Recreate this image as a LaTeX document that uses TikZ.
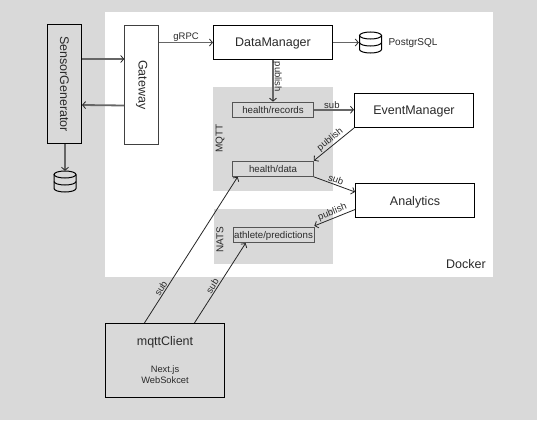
\documentclass[tikz,border=0pt]{standalone}
\usepackage{fontspec}
\setmainfont{Liberation Sans}
\usetikzlibrary{arrows.meta}
\definecolor{canvasgray}{HTML}{D9D9D9}
\definecolor{flowgray}{HTML}{666666}
\definecolor{textgray}{HTML}{2A2A2A}
\definecolor{topicline}{HTML}{555555}
\newcommand{\smalltext}{\fontsize{9.3}{11}\selectfont}
\tikzset{
    service/.style={draw=black, line width=1.1pt, inner sep=0pt, text=textgray, font=\fontsize{12.5}{15}\selectfont, align=center},
    hservice/.style={service, fill=white, minimum width=119pt, minimum height=34pt, text depth=0pt},
    vservice/.style={service, minimum width=34pt, minimum height=119pt},
    panel/.style={fill=canvasgray, inner sep=0pt},
    topic/.style={draw=topicline, line width=.7pt, inner sep=0pt, minimum width=81pt, minimum height=15.5pt, text depth=0pt, text=textgray, font=\fontsize{9.7}{10}\selectfont},
    caption/.style={inner sep=0pt, text=textgray, font=\fontsize{10}{11}\selectfont},
    edgelabel/.style={inner sep=1pt, text=textgray, font=\fontsize{9.5}{10}\selectfont},
    flow/.style={->, draw=flowgray, line width=1.8pt},
    link/.style={->, draw=black!85, line width=.8pt},
    dbslot/.style={inner sep=0pt, minimum width=23pt, minimum height=22pt},
    dbicon/.pic={
        \draw[black, line width=1pt] (0,7pt) ellipse (11pt and 3.5pt);
        \draw[black, line width=1pt] (-11pt,7pt) -- (-11pt,-7pt) arc (180:360:11pt and 3.5pt) -- (11pt,7pt);
        \draw[black, line width=1pt] (-11pt,0pt) arc (180:360:11pt and 3.5pt);
    }
}
\begin{document}
\begin{tikzpicture}[>={Straight Barb[length=3pt,width=7pt,line width=.8pt,color=black!85]}]
    \node (canvas) [fill=canvasgray, inner sep=0pt, outer sep=0pt, minimum width=537pt, minimum height=420pt, anchor=north west] at (0,0) {};
    \node (dockerarea) [fill=white, inner sep=0pt, minimum width=388pt, minimum height=265pt] at (299pt,-144.5pt) {};
    \node (sensorgen) [vservice] at (64.5pt,-84pt) {\rotatebox{-90}{SensorGenerator}};
    \node (gateway) [vservice, fill=white, draw=black!75, right of=sensorgen, node distance=77.25pt, yshift=-.75pt] {\rotatebox{-90}{Gateway}};
    \node (datamanager) [hservice, right of=gateway, node distance=131.25pt, yshift=42.25pt] {DataManager};
    \node (mqttpanel) [panel, minimum width=120pt, minimum height=104pt, below of=datamanager, node distance=96.5pt] {};
    \node (natspanel) [panel, minimum width=119pt, minimum height=55pt, below of=mqttpanel, node distance=97.5pt, xshift=.5pt] {};
    \node (healthrecords) [topic, below of=datamanager, node distance=67.25pt] {health/records};
    \node (healthdata) [topic, below of=healthrecords, node distance=59pt] {health/data};
    \node (athletepred) [topic, below of=healthdata, node distance=66.25pt, xshift=.5pt] {athlete/predictions};
    \node (eventmanager) [hservice, right of=healthrecords, node distance=141pt, yshift=-.75pt] {EventManager};
    \node (analytics) [hservice, below of=eventmanager, node distance=90pt, xshift=1pt] {Analytics};
    \node (mqttclient) [service, minimum width=119pt, minimum height=74pt, below of=gateway, node distance=275.75pt, xshift=23.25pt] {mqttClient\\[12pt]\smalltext Next.js\\[-4pt]\smalltext WebSokcet};
    \node (pgdb) [dbslot, right of=datamanager, node distance=97.5pt] {};
    \node (sensordb) [dbslot, below of=sensorgen, node distance=97.5pt, xshift=.5pt] {};
    \pic at (pgdb) {dbicon};
    \pic at (sensordb) {dbicon};
    \node (pglabel) [caption, text depth=0pt, right of=pgdb, node distance=42.5pt] {PostgrSQL};
    \node (dockerlabel) [caption, font=\fontsize{12.5}{13}\selectfont, right of=natspanel, node distance=192.5pt, yshift=-27.5pt] {Docker};
    \node (mqttlabel) [caption, left of=mqttpanel, node distance=53pt, yshift=.5pt] {\rotatebox{90}{MQTT}};
    \node (natslabel) [caption, left of=natspanel, node distance=53.5pt, yshift=-3pt] {\rotatebox{90}{NATS}};
    \draw[flow] ([yshift=25pt]sensorgen.east) -- ([yshift=25.75pt]gateway.west);
    \draw[flow] ([yshift=-20.75pt]gateway.west) -- ([yshift=-21pt]sensorgen.east);
    \draw[flow] ([xshift=.5pt]sensorgen.south) -- ([yshift=-.5pt]sensordb.north);
    \draw[flow] (gateway.north east |- datamanager.west) -- node (grpclabel) [edgelabel, above, inner sep=.5pt] {gRPC} (datamanager.west);
    \draw[flow] (datamanager.east) -- (pgdb.west);
    \draw[flow] (datamanager.south) -- node (publishrec) [edgelabel, right, inner sep=.5pt, xshift=-1.5pt, yshift=4pt] {\rotatebox{-90}{publish}} (healthrecords.north);
    \draw[flow] (healthrecords.east) -- node (subrec) [edgelabel, above, inner sep=.5pt, xshift=-2pt] {sub} (healthrecords.east -| eventmanager.west);
    \draw[link] (eventmanager.south west) -- node (publishdata) [edgelabel, sloped, above] {publish} (healthdata.north east);
    \draw[link] (healthdata.south east) -- node (subdata) [edgelabel, sloped, above] {sub} ([yshift=-9pt]analytics.north west);
    \draw[link] ([yshift=8.5pt]analytics.south west) -- node (publishpred) [edgelabel, sloped, above] {publish} ([yshift=1pt]athletepred.north east);
    \draw[link] ([xshift=39.5pt]mqttclient.north west) -- node[pos=.22] (subclienta) [edgelabel, sloped, above] {sub} ([xshift=5.5pt]healthdata.south west);
    \draw[link] ([xshift=89.5pt]mqttclient.north west) -- node[pos=.43] (subclientb) [edgelabel, sloped, above] {sub} ([xshift=13pt]athletepred.south west);
\end{tikzpicture}
\end{document}
